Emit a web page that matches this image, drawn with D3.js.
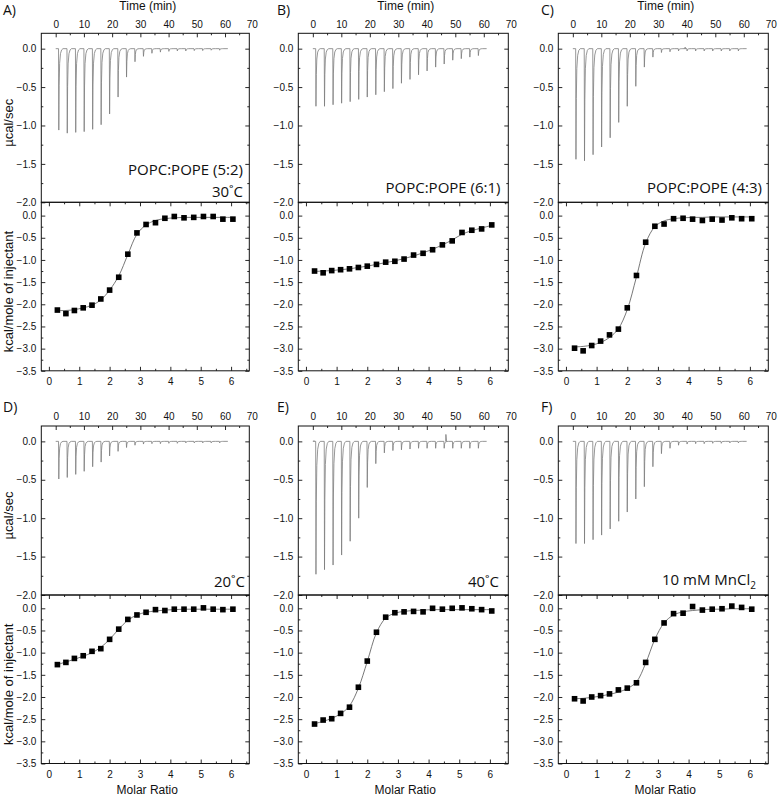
<!DOCTYPE html>
<html><head><meta charset="utf-8">
<script src="https://cdn.jsdelivr.net/npm/d3@7"></script>
<style>body{margin:0;background:#fff} svg{display:block}</style>
</head><body>
<svg id="c" width="778" height="796"></svg>
<script>
// ---------------- DATA ----------------
const panelLetters = ["A)", "B)", "C)", "D)", "E)", "F)"];
const timeTicks = [0, 10, 20, 30, 40, 50, 60, 70];
const powerTicks = [0.0, -0.5, -1.0, -1.5, -2.0];
const heatTicks = [0.0, -0.5, -1.0, -1.5, -2.0, -2.5, -3.0, -3.5];
const molarTicks = [0, 1, 2, 3, 4, 5, 6];

const injectionTimes = [1, 4, 7, 10, 13, 16, 19, 22, 25, 28, 31, 34, 37, 40, 43, 46, 49, 52, 55, 58];
const molarRatio = [0.28, 0.56, 0.84, 1.13, 1.42, 1.71, 2.00, 2.30, 2.60, 2.90, 3.20, 3.51, 3.82, 4.13, 4.45, 4.77, 5.09, 5.41, 5.73, 6.06];

// raw thermogram peak heights (µcal/sec)
const peaksA = [-1.06, -1.10, -1.09, -1.08, -1.05, -0.99, -0.85, -0.63, -0.37, -0.17, -0.10, -0.06, -0.045, -0.035, -0.03, -0.03, -0.025, -0.025, -0.02, -0.02];
const peaksB = [-0.75, -0.75, -0.73, -0.71, -0.69, -0.66, -0.63, -0.60, -0.56, -0.52, -0.45, -0.40, -0.34, -0.29, -0.24, -0.20, -0.15, -0.13, -0.11, -0.09];
const peaksC = [-1.44, -1.46, -1.38, -1.28, -1.16, -0.96, -0.75, -0.49, -0.24, -0.11, -0.05, -0.04, -0.03, -0.03, -0.03, -0.03, -0.03, -0.03, -0.03, -0.03];
const peaksD = [-0.49, -0.47, -0.43, -0.39, -0.33, -0.27, -0.19, -0.13, -0.08, -0.05, -0.035, -0.03, -0.03, -0.025, -0.025, -0.02, -0.02, -0.02, -0.02, -0.02];
const peaksE = [-1.73, -1.67, -1.61, -1.48, -1.30, -1.00, -0.60, -0.29, -0.15, -0.12, -0.11, -0.10, -0.09, -0.09, -0.09, -0.09, -0.09, -0.09, -0.09, -0.09];
const peaksF = [-1.33, -1.33, -1.28, -1.22, -1.14, -1.04, -0.92, -0.75, -0.59, -0.33, -0.16, -0.09, -0.05, -0.035, -0.03, -0.03, -0.025, -0.025, -0.02, -0.02];
// positive artefact blips [time, value]
const blipsC = [[39.3, 0.02]];
const blipsE = [[46.6, 0.09], [0.3, 0.01]];

// integrated heats (kcal/mole of injectant)
const heatsA = [-2.13, -2.21, -2.14, -2.08, -2.02, -1.88, -1.68, -1.39, -0.87, -0.39, -0.20, -0.16, -0.06, -0.02, -0.05, -0.04, -0.02, -0.02, -0.08, -0.08];
const heatsB = [-1.25, -1.29, -1.24, -1.22, -1.20, -1.17, -1.14, -1.10, -1.05, -1.03, -0.98, -0.89, -0.85, -0.77, -0.66, -0.57, -0.38, -0.33, -0.30, -0.21];
const heatsC = [-2.99, -3.05, -2.93, -2.83, -2.69, -2.56, -2.08, -1.35, -0.60, -0.24, -0.19, -0.07, -0.06, -0.08, -0.11, -0.08, -0.10, -0.05, -0.07, -0.07];
const heatsD = [-1.27, -1.22, -1.13, -1.07, -0.97, -0.91, -0.70, -0.47, -0.25, -0.15, -0.09, -0.03, -0.05, -0.02, -0.02, -0.02, 0.01, -0.02, -0.03, -0.02];
const heatsE = [-2.61, -2.52, -2.49, -2.37, -2.23, -1.78, -1.19, -0.54, -0.20, -0.10, -0.08, -0.07, -0.08, 0.00, -0.02, 0.00, 0.01, -0.01, -0.03, -0.06];
const heatsF = [-2.04, -2.09, -2.00, -1.97, -1.93, -1.84, -1.80, -1.68, -1.22, -0.70, -0.33, -0.12, -0.11, 0.04, -0.04, -0.02, -0.01, 0.05, 0.02, -0.02];

// fitted curves
const fitA = [-2.14, -2.14, -2.12, -2.08, -2.02, -1.90, -1.68, -1.36, -0.88, -0.42, -0.21, -0.11, -0.07, -0.05, -0.04, -0.04, -0.04, -0.04, -0.04, -0.04];
const fitB = [-1.26, -1.25, -1.24, -1.22, -1.20, -1.17, -1.14, -1.10, -1.06, -1.02, -0.97, -0.91, -0.84, -0.76, -0.66, -0.55, -0.42, -0.34, -0.28, -0.22];
const fitC = [-2.96, -2.95, -2.92, -2.86, -2.75, -2.55, -2.12, -1.38, -0.62, -0.25, -0.12, -0.07, -0.05, -0.04, -0.04, -0.03, -0.03, -0.03, -0.03, -0.03];
const fitD = [-1.27, -1.21, -1.15, -1.08, -1.00, -0.88, -0.70, -0.47, -0.27, -0.15, -0.09, -0.06, -0.04, -0.03, -0.02, -0.02, -0.02, -0.02, -0.02, -0.02];
const fitE = [-2.60, -2.55, -2.48, -2.38, -2.20, -1.80, -1.20, -0.55, -0.22, -0.11, -0.07, -0.05, -0.04, -0.03, -0.03, -0.03, -0.03, -0.03, -0.03, -0.03];
const fitF = [-2.04, -2.03, -2.01, -1.98, -1.94, -1.89, -1.81, -1.66, -1.24, -0.70, -0.33, -0.15, -0.08, -0.05, -0.03, -0.02, -0.02, -0.01, -0.01, -0.01];

const notesA = ["POPC:POPE (5:2)", "30˚C"];
const notesB = ["POPC:POPE (6:1)"];
const notesC = ["POPC:POPE (4:3)"];
const notesD = ["20˚C"];
const notesE = ["40˚C"];
const notesF = ["10 mM MnCl|2"];

// ---------------- LAYOUT ----------------
const panels = [
  {peaks: peaksA, blips: [], heats: heatsA, fit: fitA, notes: notesA},
  {peaks: peaksB, blips: [], heats: heatsB, fit: fitB, notes: notesB},
  {peaks: peaksC, blips: blipsC, heats: heatsC, fit: fitC, notes: notesC},
  {peaks: peaksD, blips: [], heats: heatsD, fit: fitD, notes: notesD},
  {peaks: peaksE, blips: blipsE, heats: heatsE, fit: fitE, notes: notesE},
  {peaks: peaksF, blips: [], heats: heatsF, fit: fitF, notes: notesF}
];
const colX = [41.3, 298.3, 558.3], colW = [208, 210, 210];
const rowY = [33.3, 426], topH = 169, botH = 168.5;
const noteRight = [[243, 500.5, 762], [245, 499, 756]];
const noteBase = [[[175, 197], [192.5], [192.5]], [[586.5], [586.5], [584.5]]];
const letterX = [3, 277, 541];
const letterY = [14.5, 412];

// spike glyph: [dt (min), fraction of peak]
const spikeShape = [[0, 0], [0.1, 1], [0.22, 0.45], [0.4, 0.18], [0.7, 0.06], [1.1, 0.015], [1.6, 0]];

const tickFont = "'Liberation Sans', Arial, sans-serif";
const noteFont = "'Open Sans', 'Noto Sans', sans-serif";

const svg = d3.select("#c");

function styleAxis(sel) {
  sel.select(".domain").remove();
  sel.selectAll("text").attr("font-family", tickFont).attr("font-size", 10).attr("fill", "#111");
  sel.selectAll("line").attr("stroke", "#111").attr("stroke-width", 0.9);
}

panels.forEach((p, i) => {
  const c = i % 3, r = Math.floor(i / 3);
  const W = colW[c];
  const g = svg.append("g").attr("transform", `translate(${colX[c]},${rowY[r]})`);

  const xt = d3.scaleLinear().domain([-5.1, 68.6]).range([0, W]);
  const yt = d3.scaleLinear().domain([-2.0, 0.2]).range([topH, 0]);
  const xb = d3.scaleLinear().domain([-0.25, 6.6]).range([0, W]);
  const yb = d3.scaleLinear().domain([-3.5, 0.3]).range([botH, 0]);

  const gt = g.append("g");
  const gb = g.append("g").attr("transform", `translate(0,${topH})`);

  // ---- top panel: thermogram ----
  const pts = [[0, 0]];
  injectionTimes.forEach((t, k) => {
    spikeShape.forEach(([dt, f]) => pts.push([t + dt, f * p.peaks[k]]));
  });
  pts.push([61, 0]);
  gt.append("path")
    .attr("d", d3.line().x(d => xt(d[0])).y(d => yt(d[1]))(pts))
    .attr("fill", "none").attr("stroke", "#7c7c7c").attr("stroke-width", 0.8);
  p.blips.forEach(([t, v]) => {
    gt.append("path")
      .attr("d", d3.line().x(d => xt(d[0])).y(d => yt(d[1]))([[t, 0], [t + 0.1, v], [t + 0.35, 0]]))
      .attr("fill", "none").attr("stroke", "#7c7c7c").attr("stroke-width", 0.8);
  });

  // axes top panel
  const axT = gt.append("g").call(d3.axisTop(xt).tickValues(timeTicks).tickSize(-4).tickSizeOuter(0).tickPadding(r === 0 ? 5 : 6.3).tickFormat(d3.format("d")));
  const outside = axT.selectAll(".tick").filter(d => xt(d) > W);
  outside.select("line").remove();
  outside.select("text").attr("dx", -1.5);
  styleAxis(axT);
  styleAxis(gt.append("g").call(d3.axisTop(xt).tickValues(d3.range(5, 70, 10)).tickSize(-2).tickFormat("")));
  styleAxis(gt.append("g").call(d3.axisLeft(yt).tickValues(powerTicks).tickSize(-4).tickPadding(5).tickFormat(d3.format(".1f"))));
  styleAxis(gt.append("g").call(d3.axisLeft(yt).tickValues([-0.25, -0.75, -1.25, -1.75]).tickSize(-2).tickFormat("")));
  styleAxis(gt.append("g").attr("transform", `translate(${W},0)`).call(d3.axisRight(yt).tickValues(powerTicks).tickSize(-4).tickFormat("")));
  styleAxis(gt.append("g").attr("transform", `translate(${W},0)`).call(d3.axisRight(yt).tickValues([-0.25, -0.75, -1.25, -1.75]).tickSize(-2).tickFormat("")));

  // ---- bottom panel: binding isotherm ----
  const fitLine = d3.line().curve(d3.curveCatmullRom.alpha(0.5))
    .x((d, k) => xb(molarRatio[k])).y(d => yb(d));
  gb.append("path").attr("d", fitLine(p.fit))
    .attr("fill", "none").attr("stroke", "#555").attr("stroke-width", 0.8);
  const s = 5.6;
  gb.selectAll("rect.pt").data(p.heats).join("rect").attr("class", "pt")
    .attr("x", (d, k) => xb(molarRatio[k]) - s / 2).attr("y", d => yb(d) - s / 2)
    .attr("width", s).attr("height", s).attr("fill", "#000");

  const heatMinor = [-0.25, -0.75, -1.25, -1.75, -2.25, -2.75, -3.25];
  styleAxis(gb.append("g").attr("transform", `translate(0,${botH})`).call(d3.axisBottom(xb).tickValues(molarTicks).tickSize(-4).tickSizeOuter(0).tickPadding(7).tickFormat(d3.format("d"))));
  styleAxis(gb.append("g").attr("transform", `translate(0,${botH})`).call(d3.axisBottom(xb).tickValues(d3.range(0.5, 6.6, 1)).tickSize(-2).tickFormat("")));
  styleAxis(gb.append("g").call(d3.axisTop(xb).tickValues(molarTicks).tickSize(-4).tickFormat("")));
  styleAxis(gb.append("g").call(d3.axisTop(xb).tickValues(d3.range(0.5, 6.6, 1)).tickSize(-2).tickFormat("")));
  styleAxis(gb.append("g").call(d3.axisLeft(yb).tickValues(heatTicks).tickSize(-4).tickPadding(5).tickFormat(d3.format(".1f"))));
  styleAxis(gb.append("g").call(d3.axisLeft(yb).tickValues(heatMinor).tickSize(-2).tickFormat("")));
  styleAxis(gb.append("g").attr("transform", `translate(${W},0)`).call(d3.axisRight(yb).tickValues(heatTicks).tickSize(-4).tickFormat("")));
  styleAxis(gb.append("g").attr("transform", `translate(${W},0)`).call(d3.axisRight(yb).tickValues(heatMinor).tickSize(-2).tickFormat("")));

  // frames
  g.append("rect").attr("x", 0).attr("y", 0).attr("width", W).attr("height", topH)
    .attr("fill", "none").attr("stroke", "#111").attr("stroke-width", 1);
  g.append("rect").attr("x", 0).attr("y", topH).attr("width", W).attr("height", botH)
    .attr("fill", "none").attr("stroke", "#111").attr("stroke-width", 1);

  // notes
  p.notes.forEach((n, k) => {
    const parts = n.split("|");
    const t = svg.append("text").attr("x", noteRight[r][c]).attr("y", noteBase[r][c][k])
      .attr("text-anchor", "end").attr("font-family", noteFont).attr("font-size", 15).attr("fill", "#111");
    t.append("tspan").text(parts[0]);
    if (parts[1]) t.append("tspan").attr("font-size", 10).attr("dy", 4).text(parts[1]);
  });

  // panel letter
  svg.append("text").attr("x", letterX[c]).attr("y", letterY[r]).text(panelLetters[i])
    .attr("font-family", noteFont).attr("font-size", 14).attr("fill", "#111");

  // axis titles
  if (r === 0) {
    svg.append("text").attr("x", colX[c] + W / 2 + 2.5).attr("y", 10).attr("text-anchor", "middle")
      .attr("font-family", tickFont).attr("font-size", 12).attr("fill", "#111").text("Time (min)");
  }
  if (r === 1) {
    svg.append("text").attr("x", colX[c] + W / 2 + 2).attr("y", 793.5).attr("text-anchor", "middle")
      .attr("font-family", tickFont).attr("font-size", 12).attr("fill", "#111").text("Molar Ratio");
  }
  if (c === 0) {
    svg.append("text").attr("transform", `translate(13,${rowY[r] + topH / 2 + 5}) rotate(-90)`)
      .attr("text-anchor", "middle").attr("font-family", tickFont).attr("font-size", 13).attr("fill", "#111").text("µcal/sec");
    svg.append("text").attr("transform", `translate(12.5,${rowY[r] + topH + botH / 2 + 5}) rotate(-90)`)
      .attr("text-anchor", "middle").attr("font-family", tickFont).attr("font-size", 13).attr("fill", "#111").text("kcal/mole of injectant");
  }
});
</script>
</body></html>
